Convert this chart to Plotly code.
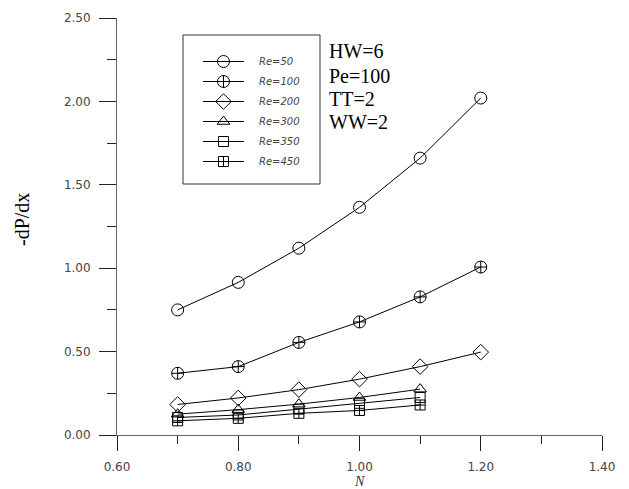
import plotly.graph_objects as go

# ---- data ----
N_long = [0.7, 0.8, 0.9, 1.0, 1.1, 1.2]
N_short = [0.7, 0.8, 0.9, 1.0, 1.1]

re50 = [0.75, 0.915, 1.12, 1.365, 1.66, 2.02]
re100 = [0.37, 0.41, 0.555, 0.678, 0.828, 1.007]
re200 = [0.183, 0.222, 0.272, 0.335, 0.41, 0.497]
re300 = [0.125, 0.152, 0.185, 0.225, 0.275]
re350 = [0.105, 0.12, 0.155, 0.19, 0.225]
re450 = [0.085, 0.10, 0.13, 0.147, 0.18]

series_names = ["Re=50", "Re=100", "Re=200", "Re=300", "Re=350", "Re=450"]
series_x = [N_long, N_long, N_long, N_short, N_short, N_short]
series_y = [re50, re100, re200, re300, re350, re450]
series_symbols = ["circle-open", "circle-cross-open", "diamond-open",
                  "triangle-up-open", "square-open", "square-cross-open"]
series_sizes = [12, 12, 12, 11, 10, 10]

x_ticks = [0.6, 0.8, 1.0, 1.2, 1.4]
y_ticks = [0.0, 0.5, 1.0, 1.5, 2.0, 2.5]
params = ["HW=6", "Pe=100", "TT=2", "WW=2"]

fig = go.Figure()
for i, (nm, xs, ys, sym, sz) in enumerate(zip(series_names, series_x, series_y,
                                               series_symbols, series_sizes)):
    fig.add_trace(go.Scatter(
        x=xs, y=ys, name="\u2003" + nm, mode="lines+markers", legendgroup=str(i),
        line=dict(color="black", width=1),
        marker=dict(symbol=sym, size=sz, color="black",
                    line=dict(color="black", width=1)),
    ))

W, H = 629, 489
L, R, T, B = 117, 27, 18, 54
pw, ph = W - L - R, H - T - B

def px(xp):
    return (xp - L) / pw

def py(yp):
    return (H - B - yp) / ph

axis_common = dict(
    showline=True, linecolor="#666", linewidth=1, mirror=False,
    showgrid=False, zeroline=False, ticks="outside", tickcolor="#222",
    tickwidth=1, tickformat=".2f",
    tickfont=dict(family="DejaVu Sans", size=12, color="#444"),
)

fig.update_layout(
    width=W, height=H,
    margin=dict(l=L, r=R, t=T, b=B),
    paper_bgcolor="white", plot_bgcolor="white",
    showlegend=True,
    legend=dict(
        x=px(198), y=py(47), xanchor="left", yanchor="top",
        bgcolor="rgba(0,0,0,0)", borderwidth=0,
        font=dict(family="DejaVu Sans", size=10, color="#444", style="italic"),
        tracegroupgap=1, itemwidth=41, traceorder="grouped",
    ),
    xaxis=dict(range=[0.6, 1.4], tickvals=x_ticks, ticklen=15,
               ticklabelstandoff=6,
               minor=dict(dtick=0.1, ticklen=8, ticks="outside",
                          tickcolor="#222", showgrid=False),
               **axis_common),
    yaxis=dict(range=[0, 2.5], tickvals=y_ticks, ticklen=17,
               ticklabelstandoff=6,
               minor=dict(dtick=0.25, ticklen=9, ticks="outside",
                          tickcolor="#222", showgrid=False),
               **axis_common),
    shapes=[dict(type="rect", xref="paper", yref="paper",
                 x0=px(183), x1=px(320), y0=py(184), y1=py(35),
                 line=dict(color="#333", width=1), fillcolor="rgba(0,0,0,0)")],
)

anns = []
for txt, yc in zip(params, [51.5, 75.5, 98.5, 121.5]):
    anns.append(dict(text=txt, xref="paper", yref="paper", x=px(327), y=py(yc),
                     xanchor="left", yanchor="middle", showarrow=False,
                     font=dict(family="Liberation Serif", size=20, color="black")))
anns.append(dict(text="-dP/dx", xref="paper", yref="paper", x=px(22), y=py(220),
                 xanchor="center", yanchor="middle", textangle=-90, showarrow=False,
                 font=dict(family="Liberation Serif", size=20, color="black")))
anns.append(dict(text="<i>N</i>", xref="paper", yref="paper", x=0.5, y=py(481),
                 xanchor="center", yanchor="middle", showarrow=False,
                 font=dict(family="Liberation Serif", size=14, color="#333")))
fig.update_layout(annotations=anns)

fig.write_html("out.html", config={"displayModeBar": False},
               post_script="document.body.style.margin='0';document.body.style.padding='0';")
